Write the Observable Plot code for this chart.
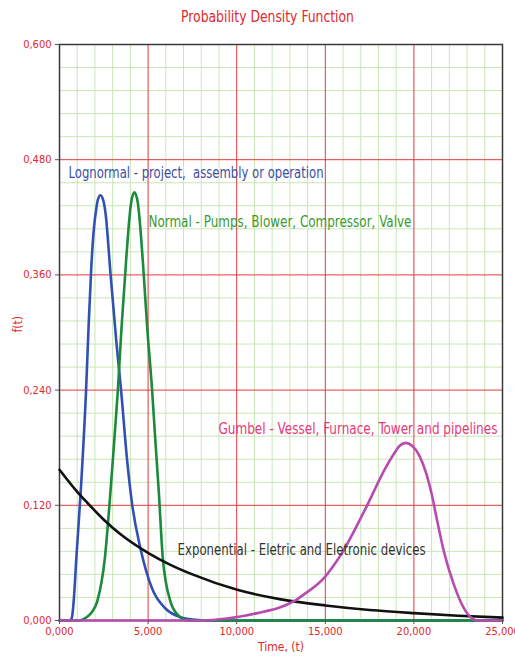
<!DOCTYPE html>
<html><head><meta charset="utf-8">
<script src="https://cdn.jsdelivr.net/npm/d3@7"></script>
<script src="https://cdn.jsdelivr.net/npm/@observablehq/plot@0.6"></script>
<style>
body{margin:0;background:#fff;}
#title{height:30px;line-height:34px;font-family:"Liberation Sans Narrow","DejaVu Sans Condensed",sans-serif;font-size:16px;color:#E0282E;width:515px;text-align:center;}
#title span{display:inline-block;position:relative;left:10px;transform:scaleX(0.86);}
</style></head><body>
<div id="title"><span>Probability Density Function</span></div>
<div id="chart"></div>
<script>
// ---- data ----
const lognormalT = [0, 600, 700, 800, 950, 1200, 1500, 1650, 1800, 1950, 2070, 2160, 2310, 2480, 2600, 2880, 3220, 3480, 3800, 4100, 4570, 5230, 5980, 6920, 7500, 8500, 25000];
const lognormalF = [0, 0, 0.003, 0.02, 0.065, 0.135, 0.24, 0.31, 0.37, 0.41, 0.428, 0.438, 0.443, 0.437, 0.424, 0.361, 0.288, 0.239, 0.17, 0.121, 0.075, 0.033, 0.0125, 0.003, 0.001, 0, 0];

const normalT = [0, 1100, 1500, 1800, 2130, 2560, 2880, 3100, 3290, 3500, 3760, 3950, 4040, 4230, 4420, 4510, 4700, 4950, 5230, 5400, 5600, 5830, 6260, 6720, 7200, 25000];
const normalF = [0, 0, 0.003, 0.008, 0.02, 0.065, 0.135, 0.19, 0.239, 0.305, 0.375, 0.42, 0.435, 0.446, 0.435, 0.42, 0.375, 0.305, 0.239, 0.19, 0.135, 0.065, 0.02, 0.005, 0, 0];

const exponentialT = [0, 1000, 1500, 2500, 3500, 5040, 6260, 7500, 10030, 12500, 15010, 17500, 20000, 22500, 25000];
const exponentialF = [0.157, 0.134, 0.124, 0.105, 0.089, 0.070, 0.058, 0.048, 0.032, 0.022, 0.0157, 0.011, 0.0077, 0.005, 0.003];

const gumbelT = [0, 8000, 9460, 11160, 12500, 13200, 13780, 15010, 15500, 16000, 16420, 17360, 18400, 18850, 19200, 19530, 19900, 20300, 20700, 21000, 21300, 21690, 22250, 22820, 23290, 23600, 25000];
const gumbelF = [0, 0, 0.002, 0.0077, 0.014, 0.0198, 0.027, 0.046, 0.058, 0.072, 0.086, 0.12, 0.159, 0.173, 0.182, 0.185, 0.182, 0.172, 0.153, 0.132, 0.105, 0.072, 0.0376, 0.0128, 0.002, 0, 0];

const xTicks = [0, 5000, 10000, 15000, 20000, 25000];
const yTicks = [0, 0.12, 0.24, 0.36, 0.48, 0.6];
const labels = ["Lognormal - project,  assembly or operation", "Normal - Pumps, Blower, Compressor, Valve", "Gumbel - Vessel, Furnace, Tower and pipelines", "Exponential - Eletric and Eletronic devices"];

// ---- build ----
const rows = (T, F) => T.map((t, i) => ({t, f: F[i]}));
const minorX = d3.range(1000, 25000, 1000).filter(v => v % 5000 !== 0);
const minorY = d3.range(1, 25).map(i => i * 0.024).filter((v, i) => (i + 1) % 5 !== 0);
const majorX = xTicks.slice(1, -1);
const majorY = yTicks.slice(1, -1);
const font = `"Liberation Sans Narrow","DejaVu Sans Condensed",sans-serif`;
const red = "#E0282E";
const fmtY = d => d.toFixed(3).replace(".", ",");
const fmtX = d => (d / 1000).toFixed(3).replace(".", ",");

const labelData = [
  {text: labels[0], t: 510, f: 0.466, c: "#3C4DA5", w: 255},
  {text: labels[1], t: 5020, f: 0.415, c: "#3A9A2E", w: 263},
  {text: labels[2], t: 8970, f: 0.1995, c: "#E8387C", w: 279},
  {text: labels[3], t: 6660, f: 0.074, c: "#333333", w: 248}
];

const lineOpts = {x: "t", y: "f", strokeWidth: 2.6, curve: "monotone-x"};
const plot = Plot.plot({
  width: 515, height: 631,
  marginTop: 14, marginLeft: 59, marginRight: 13, marginBottom: 41,
  style: {fontFamily: font, background: "#fff", overflow: "visible"},
  x: {domain: [0, 25000]},
  y: {domain: [0, 0.6]},
  marks: [
    Plot.ruleX(minorX, {stroke: "#C8E6B6", strokeWidth: 1}),
    Plot.ruleY(minorY, {stroke: "#C8E6B6", strokeWidth: 1}),
    Plot.ruleX(majorX, {stroke: "#E23A3A", strokeWidth: 1}),
    Plot.ruleY(majorY, {stroke: "#E23A3A", strokeWidth: 1}),
    Plot.frame({stroke: "#3a3a3a", strokeWidth: 1.5}),
    Plot.line(rows(lognormalT, lognormalF), {...lineOpts, stroke: "#3050B5"}),
    Plot.line(rows(normalT, normalF), {...lineOpts, stroke: "#1B8A3A"}),
    Plot.line(rows(exponentialT, exponentialF), {...lineOpts, stroke: "#111111"}),
    Plot.line(rows(gumbelT, gumbelF), {...lineOpts, stroke: "#B74BB2"}),
    Plot.text(labelData, {x: "t", y: "f", text: "text", fill: "c", textAnchor: "start", fontSize: 16, className: "clabel"}),
    Plot.axisY({ticks: yTicks, tickFormat: fmtY, tickSize: 4, tickPadding: 4, fill: red, stroke: "#555", fontSize: 11, label: null}),
    Plot.axisX({ticks: xTicks, tickFormat: fmtX, tickSize: 4, tickPadding: 3, fill: red, stroke: "#555", fontSize: 11, label: null}),
    Plot.text(["f(t)"], {frameAnchor: "left", dx: -41, rotate: -90, fill: red, fontSize: 12}),
    Plot.text(["Time, (t)"], {frameAnchor: "bottom", dy: 30, fill: red, fontSize: 12})
  ]
});
document.getElementById("chart").appendChild(plot);
plot.querySelectorAll("g.clabel text").forEach((el, i) => {
  el.setAttribute("textLength", labelData[i].w);
  el.setAttribute("lengthAdjust", "spacingAndGlyphs");
  el.setAttribute("xml:space", "preserve");
  el.style.whiteSpace = "pre";
});
</script>
</body></html>
